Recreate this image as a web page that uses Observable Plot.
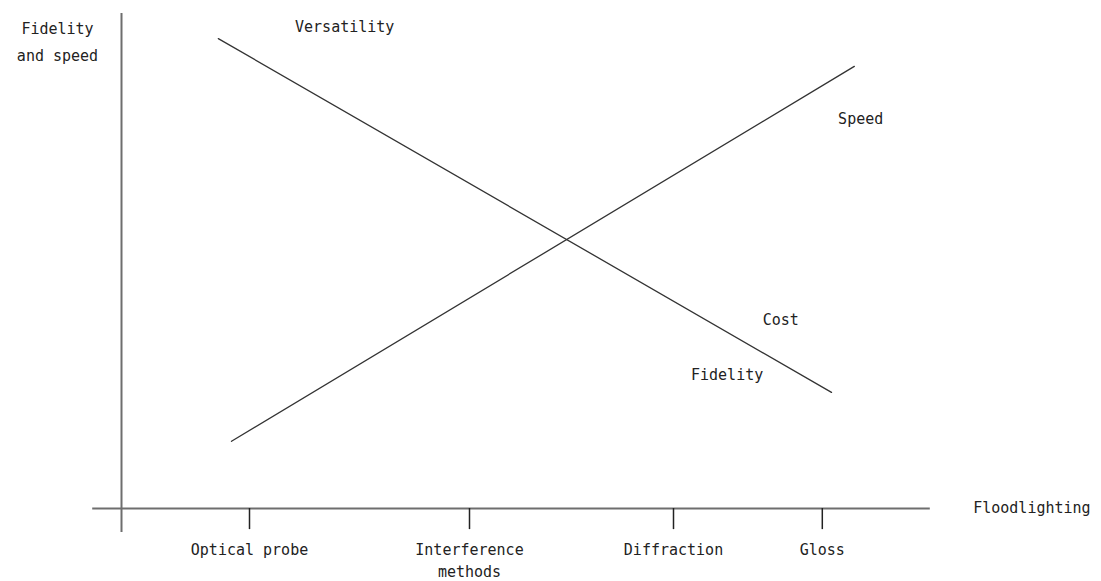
<!DOCTYPE html>
<html><head><meta charset="utf-8">
<script src="https://cdn.jsdelivr.net/npm/d3@7"></script>
<script src="https://cdn.jsdelivr.net/npm/@observablehq/plot@0.6"></script>
<style>body{margin:0;background:#fff}</style>
</head><body><div id="chart"></div>
<script>
// Categories on the horizontal axis (position along the axis, arbitrary units)
const categories = ["Optical probe", "Interference\nmethods", "Diffraction", "Gloss"];
const categoryPos = [1.6, 4.35, 6.9, 8.76];

// Two trend lines (schematic): start and end points
const seriesNames = ["Fidelity / Cost / Versatility", "Speed"];
const fidelityX = [1.21, 8.875];
const fidelityY = [9.79, 2.42];
const speedX = [1.375, 9.16];
const speedY = [1.40, 9.21];

// Line annotations
const annoText = ["Versatility", "Speed", "Cost", "Fidelity"];
const annoX = [2.79, 9.24, 8.24, 7.57];
const annoY = [10.02, 8.12, 3.92, 2.77];

// Axis titles
const yTitle = "Fidelity\nand speed";
const xTitle = "Floodlighting";

const lines = [
  ...fidelityX.map((x, i) => ({s: seriesNames[0], x, y: fidelityY[i]})),
  ...speedX.map((x, i) => ({s: seriesNames[1], x, y: speedY[i]}))
];
const cats = categories.map((c, i) => ({c, x: categoryPos[i]}));
const annos = annoText.map((t, i) => ({t, x: annoX[i], y: annoY[i]}));

const font = "DejaVu Sans Mono, Liberation Mono, monospace";
const chart = Plot.plot({
  width: 1101, height: 581,
  marginTop: 0, marginRight: 0, marginBottom: 0, marginLeft: 0,
  x: {domain: [-1.5125, 12.25], axis: null},
  y: {domain: [-1.521, 10.583], axis: null},
  style: {fontFamily: font, background: "#fff"},
  marks: [
    // axes
    Plot.ruleY([0], {x1: -0.36, x2: 10.11, stroke: "#6e6e6e", strokeWidth: 2}),
    Plot.ruleX([0], {y1: -0.5, y2: 10.31, stroke: "#6e6e6e", strokeWidth: 2}),
    // ticks
    Plot.ruleX(cats, {x: "x", y1: 0, y2: -0.44, stroke: "#222", strokeWidth: 1.5}),
    Plot.text(cats, {x: "x", y: -0.86, text: "c", fontSize: 15, fill: "#222", lineAnchor: "top", dy: -10, lineHeight: 1.45}),
    // lines
    Plot.line(lines, {x: "x", y: "y", z: "s", stroke: "#333", strokeWidth: 1.3}),
    // annotations
    Plot.text(annos, {x: "x", y: "y", text: "t", fontSize: 15, fill: "#222"}),
    Plot.text([yTitle], {x: -0.8, y: 10.1, text: d => d, fontSize: 15, fill: "#222", lineAnchor: "top", dy: -9, lineHeight: 1.8}),
    Plot.text([xTitle], {x: 11.38, y: 0, text: d => d, fontSize: 15, fill: "#222"})
  ]
});
document.getElementById("chart").append(chart);
</script>
</body></html>
